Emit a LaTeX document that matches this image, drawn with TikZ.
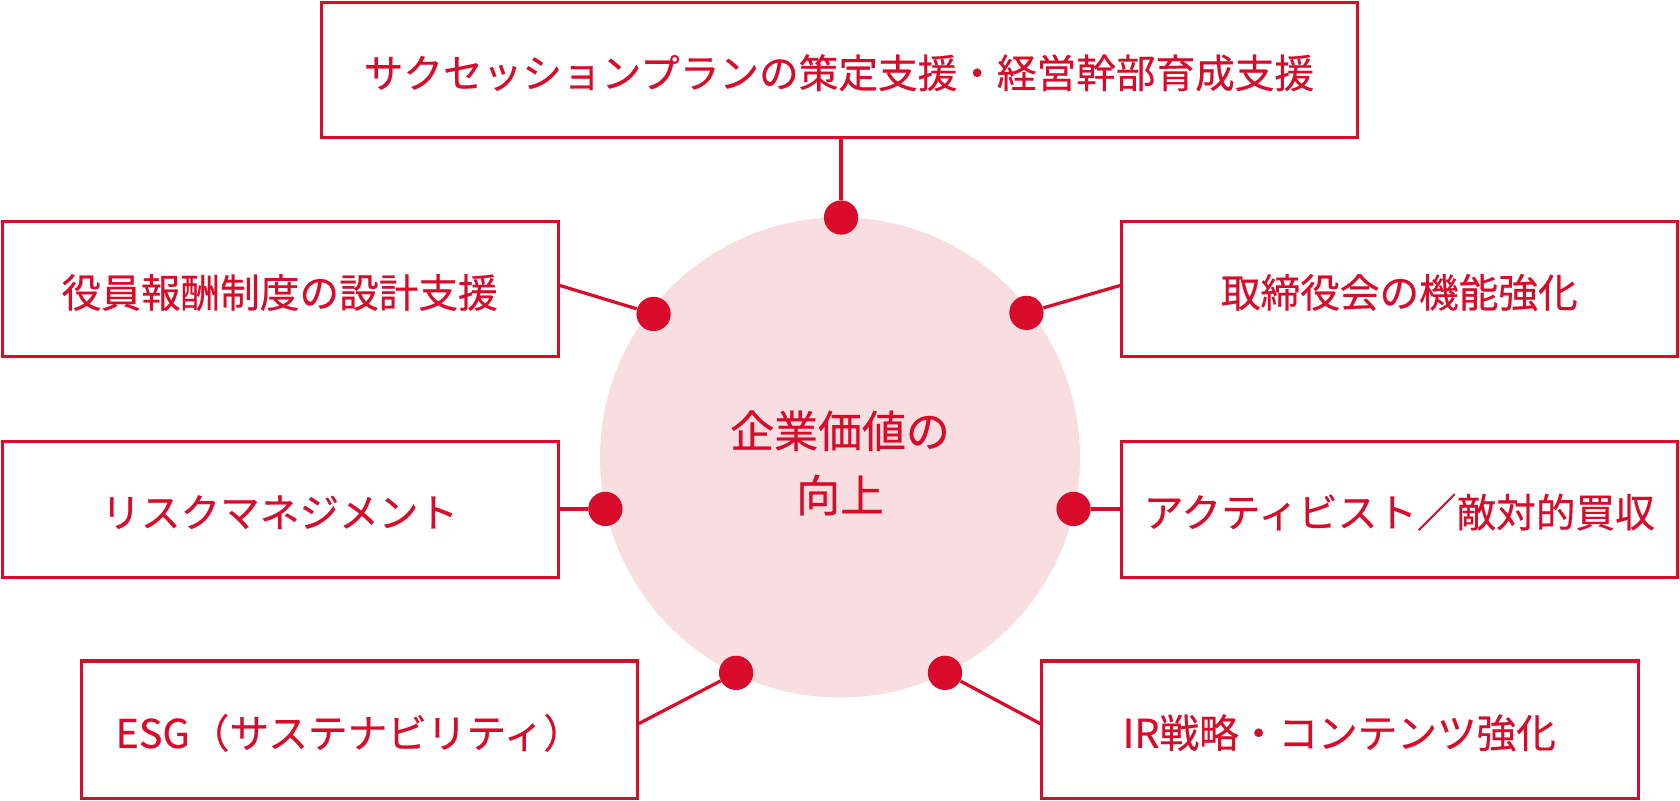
\documentclass[tikz,border=0pt]{standalone}
\usepackage{fontspec}
\setmainfont{Noto Sans CJK JP}[UprightFeatures={FakeBold=0.5}]
\definecolor{rd}{HTML}{D80C2A}
\definecolor{pk}{HTML}{F8DDE1}
\begin{document}
\begin{tikzpicture}[x=0.5pt,y=-0.5pt,
  box/.style={draw=rd,line width=1.5pt},
  lab/.style={text=rd,font=\fontsize{18.5}{22}\selectfont,inner sep=0pt},
  dot/.style={circle,fill=rd,minimum size=16pt,inner sep=0pt},
  ln/.style={draw=rd,line width=1.5pt}]
\useasboundingbox (0,0) rectangle (1568,747);
\fill[pk] (784,427) circle (224);
\node[text=rd,font=\fontsize{20.5}{30}\selectfont,align=center] (c) at (784,432) {企業価値の\\向上};
\draw[box] (300,2) rectangle (1267,128);
\node[lab] (tt) at (783,68) {サクセッションプランの策定支援・経営幹部育成支援};
\draw[box] (2,207) rectangle (521,333);
\node[lab] (l1) at (261,273) {役員報酬制度の設計支援};
\draw[box] (1047,207) rectangle (1566,333);
\node[lab] (r1) at (1306,273) {取締役会の機能強化};
\draw[box] (2,412) rectangle (521,539);
\node[lab] (l2) at (261,478) {リスクマネジメント};
\draw[box] (1047,412) rectangle (1566,539);
\node[lab] (r2) at (1306,478) {アクティビスト／敵対的買収};
\draw[box] (76,617) rectangle (595,745);
\node[lab] (l3) at (326,684) {ESG（サステナビリティ）};
\draw[box] (972,617) rectangle (1529,745);
\node[lab] (r3) at (1250,684) {IR戦略・コンテンツ強化};
\coordinate (et) at (785,128);
\coordinate (el1) at (521,266); \coordinate (er1) at (1047,266);
\coordinate (el2) at (521,475); \coordinate (er2) at (1047,475);
\coordinate (el3) at (595,676); \coordinate (er3) at (972,676);
\node[dot] (dt) at (785,203) {};
\node[dot] (d1) at (610,293) {};
\node[dot] (d2) at (958,292) {};
\node[dot] (d3) at (565,475) {};
\node[dot] (d4) at (1002,475) {};
\node[dot] (d5) at (687,628) {};
\node[dot] (d6) at (882,628) {};
\draw[ln] (et) -- (dt);
\draw[ln] (el1) -- (d1); \draw[ln] (er1) -- (d2);
\draw[ln] (el2) -- (d3); \draw[ln] (er2) -- (d4);
\draw[ln] (el3) -- (d5); \draw[ln] (er3) -- (d6);
\end{tikzpicture}
\end{document}
